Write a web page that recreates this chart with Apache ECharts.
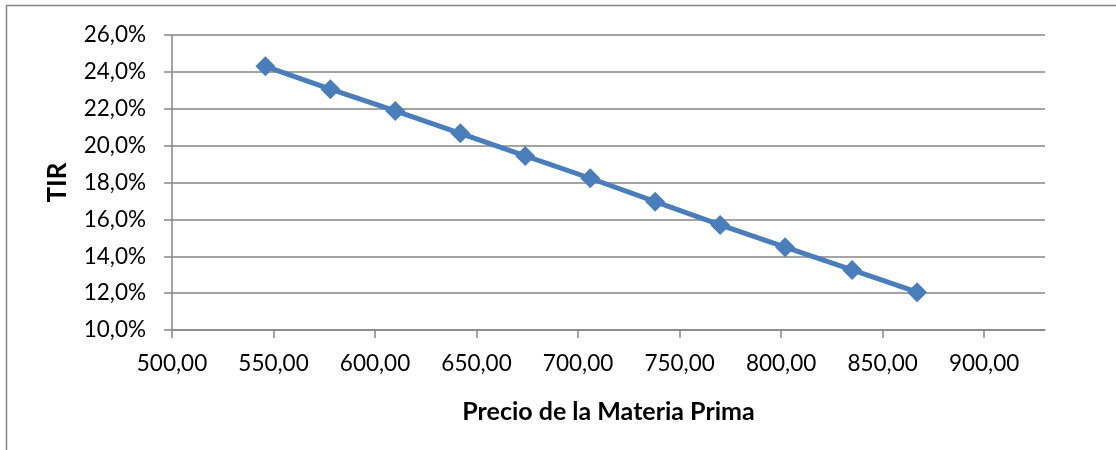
<!DOCTYPE html>
<html>
<head>
<meta charset="utf-8">
<script src="https://cdn.jsdelivr.net/npm/echarts@6/dist/echarts.min.js"></script>
<style>
  html, body { margin: 0; padding: 0; background: #fff; }
  #chart { width: 1116px; height: 450px; }
</style>
</head>
<body>
<div id="chart"></div>
<script>
// Precio de la materia prima vs. TIR (%)
const precios = [546, 578, 610, 642, 674, 706, 738, 770, 802, 835, 867];
const tir = [24.3, 23.06, 21.88, 20.67, 19.44, 18.23, 16.96, 15.70, 14.49, 13.26, 12.05];
const xTicks = [500, 550, 600, 650, 700, 750, 800, 850, 900];
const yTicks = [10, 12, 14, 16, 18, 20, 22, 24, 26];

const FONT = 'Lato';
const AXIS_GRAY = '#868686';

const chart = echarts.init(document.getElementById('chart'), null, { renderer: 'canvas' });

chart.setOption({
  animation: false,
  backgroundColor: '#ffffff',
  graphic: [{
    type: 'rect',
    shape: { x: 6.5, y: 5.5, width: 1200, height: 500 },
    style: { fill: 'none', stroke: AXIS_GRAY, lineWidth: 1.5 },
    silent: true,
    z: -1
  }],
  grid: { left: 172, right: 71, top: 35, bottom: 120, containLabel: false },
  xAxis: {
    type: 'value',
    min: 500,
    max: 930,
    interval: 50,
    name: 'Precio de la Materia Prima',
    nameLocation: 'middle',
    nameGap: 69,
    nameTextStyle: { fontFamily: FONT, fontWeight: 'bold', fontSize: 25, color: '#000' },
    axisLine: { show: true, lineStyle: { color: AXIS_GRAY, width: 1.5 } },
    axisTick: { show: true, length: 8, inside: false, customValues: xTicks, lineStyle: { color: AXIS_GRAY, width: 1.5 } },
    axisLabel: {
      customValues: xTicks,
      margin: 22,
      fontFamily: FONT, fontSize: 22.5, color: '#000',
      formatter: v => v.toFixed(2).replace('.', ',')
    },
    splitLine: { show: false }
  },
  yAxis: {
    type: 'value',
    min: 10,
    max: 26,
    interval: 2,
    name: 'TIR',
    nameLocation: 'middle',
    nameRotate: 90,
    nameGap: 101,
    nameTextStyle: { fontFamily: FONT, fontWeight: 'bold', fontSize: 26, color: '#000' },
    axisLine: { show: true, lineStyle: { color: AXIS_GRAY, width: 1.5 } },
    axisTick: { show: true, length: 8, inside: false, customValues: yTicks, lineStyle: { color: AXIS_GRAY, width: 1.5 } },
    axisLabel: {
      customValues: yTicks,
      margin: 26,
      fontFamily: FONT, fontSize: 22.5, color: '#000',
      formatter: v => v.toFixed(1).replace('.', ',') + '%'
    },
    splitLine: { show: true, lineStyle: { color: AXIS_GRAY, width: 1.5 } }
  },
  series: [{
    type: 'line',
    data: precios.map((p, i) => [p, tir[i]]),
    symbol: 'diamond',
    symbolSize: 20,
    lineStyle: { color: '#4A7EBB', width: 5 },
    itemStyle: { color: '#4A7EBB' },
    z: 3
  }]
});
</script>
</body>
</html>
